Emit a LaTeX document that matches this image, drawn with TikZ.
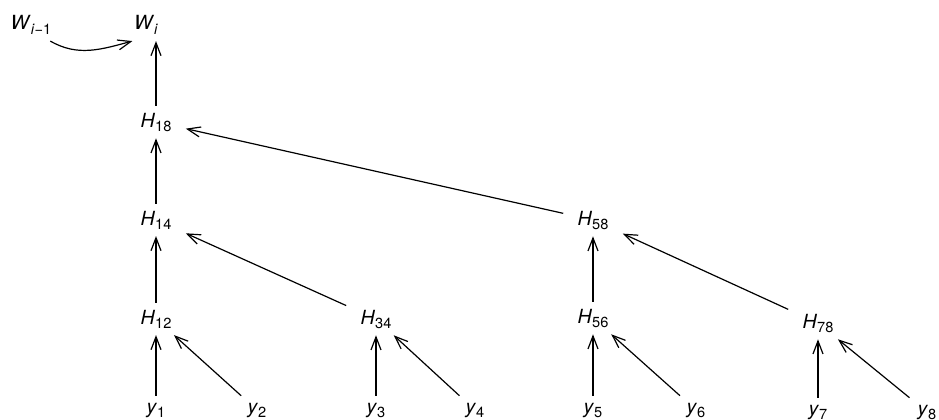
\documentclass[tikz,border=0pt]{standalone}
\usepackage{fontspec}
\setmainfont{TeX Gyre Heros}
\usetikzlibrary{arrows.meta}
\newcommand{\vlab}[2]{\textit{#1}\raisebox{-2pt}{\fontsize{7.3}{8}\selectfont #2}}
\tikzset{
  vnode/.style={anchor=base, inner xsep=7pt, font=\fontsize{9.75}{12}\selectfont},
  parr/.style={-{Straight Barb[length=6.5pt,width=5pt]}, line width=0.6pt},
}
\begin{document}
\begin{tikzpicture}[x=0.5pt,y=0.5pt]
\clip (0,0) rectangle (939,419);
% top: W_{i-1} feeds W_i
\node[vnode] (Wim1) at (31,389) {\vlab{W}{\textit{i}−1}};
\node[vnode] (Wi) at (146,389) {\vlab{W}{\textit{i}}};
% inner hash nodes
\node[vnode] (H18) at (156,292) {\vlab{H}{18}};
\node[vnode] (H14) at (156,194) {\vlab{H}{14}};
\node[vnode] (H58) at (593,194) {\vlab{H}{58}};
\node[vnode] (H12) at (156,95) {\vlab{H}{12}};
\node[vnode] (H34) at (376,95) {\vlab{H}{34}};
\node[vnode] (H56) at (593,96) {\vlab{H}{56}};
\node[vnode] (H78) at (818,91) {\vlab{H}{78}};
% leaves
\node[vnode] (y1) at (156,6) {\vlab{y}{1}};
\node[vnode] (y2) at (257,6) {\vlab{y}{2}};
\node[vnode] (y3) at (376,6) {\vlab{y}{3}};
\node[vnode] (y4) at (475,6) {\vlab{y}{4}};
\node[vnode] (y5) at (593,6) {\vlab{y}{5}};
\node[vnode] (y6) at (696,6) {\vlab{y}{6}};
\node[vnode] (y7) at (818,4) {\vlab{y}{7}};
\node[vnode] (y8) at (927,4) {\vlab{y}{8}};
% edges
\draw[parr] (Wim1.-40) to[out=-30, in=195] (Wi.-130);
\draw[parr] (H18) -- (H18 |- Wi.south);
\draw[parr] (H14) -- (H18);
\draw[parr] (H58) -- (H18);
\draw[parr] (H12) -- (H14);
\draw[parr] (H34) -- (H14);
\draw[parr] (H56) -- (H58);
\draw[parr] (H78) -- (H58);
\draw[parr] (y1) -- (H12);
\draw[parr] (y2) -- (H12);
\draw[parr] (y3) -- (H34);
\draw[parr] (y4) -- (H34);
\draw[parr] (y5) -- (H56);
\draw[parr] (y6) -- (H56);
\draw[parr] (y7) -- (H78);
\draw[parr] (y8) -- (H78);
\end{tikzpicture}
\end{document}
